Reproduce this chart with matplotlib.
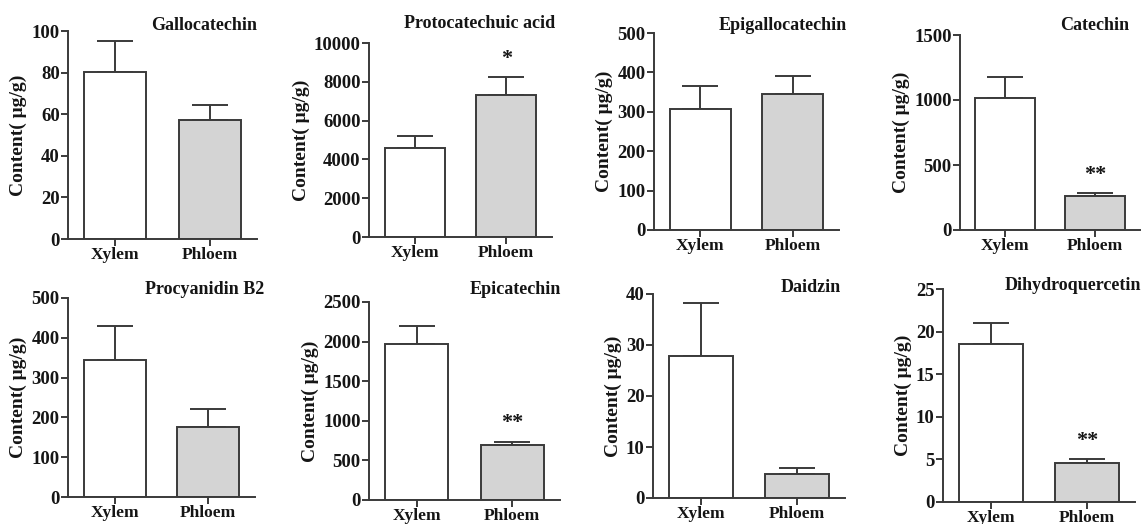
import numpy as np
from matplotlib import pyplot as plt

## data

groups    = ['Xylem', 'Phloem']
compounds = ['Gallocatechin', 'Protocatechuic acid', 'Epigallocatechin', 'Catechin',
             'Procyanidin B2', 'Epicatechin', 'Daidzin', 'Dihydroquercetin']
xylem     = [80.5, 4600, 308, 1015, 343, 1965, 27.8, 18.5]
xylem_err = [14.5, 600, 57, 160, 87, 235, 10.4, 2.5]
phloem    = [57.0, 7300, 345, 260, 175, 700, 4.8, 4.6]
phloem_err= [7.5, 950, 45, 25, 45, 35, 1.0, 0.4]
signif    = ['', '*', '', '**', '', '**', '', '**']
ymax      = [100, 10000, 500, 1500, 500, 2500, 40, 25]
ystep     = [20, 2000, 100, 500, 100, 500, 10, 5]

## panel boxes in pixels: left, right, top, bottom
W, H = 1145.0, 524.0
boxes = [(68, 257, 31, 239), (369, 552, 43, 237), (654, 839, 33, 230), (960, 1140, 35, 230),
         (68, 255, 298, 497), (369, 560, 302, 500), (653, 845, 294, 498), (943, 1135, 289, 502)]
# title centres in pixels
tpos  = [(204, 25), (480, 23), (783, 25), (1095, 25),
         (205, 289), (515, 289), (811, 287), (1073, 285)]

plt.rcParams['font.family'] = 'Liberation Serif'
plt.rcParams['font.weight'] = 'bold'
txt   = '#151515'
axcol = '#3a3a3a'

fig = plt.figure(figsize=(W/100, H/100), dpi=100)

for i in range(8):
    l, r, t, b = boxes[i]
    ax = fig.add_axes([l/W, 1 - b/H, (r - l)/W, (b - t)/H])
    x = np.arange(2)
    vals = [xylem[i], phloem[i]]
    errs = [xylem_err[i], phloem_err[i]]
    ax.bar(x, vals, width=0.66, color=['white', '#d4d4d4'], edgecolor=axcol, linewidth=1.4, zorder=2)
    ax.errorbar(x, vals, yerr=[[0, 0], errs], fmt='none', ecolor=axcol, elinewidth=1.4,
                capsize=13, capthick=1.4, zorder=1)
    if signif[i]:
        ax.annotate(signif[i], (1, phloem[i] + phloem_err[i]), xytext=(0, 6),
                    textcoords='offset points', ha='center', va='bottom',
                    fontsize=16, color=txt, fontweight='bold')
    ax.set_xlim(-0.5, 1.5)
    ax.set_ylim(0, ymax[i])
    ax.set_yticks(np.arange(0, ymax[i] + ystep[i]/2, ystep[i]))
    ax.set_xticks(x)
    ax.set_xticklabels(groups)
    for s in ['top', 'right']:
        ax.spines[s].set_visible(False)
    for s in ['left', 'bottom']:
        ax.spines[s].set_color(axcol)
        ax.spines[s].set_linewidth(1.4)
    ax.tick_params(axis='both', colors=axcol, length=5, width=1.4, labelcolor=txt)
    ax.tick_params(axis='y', labelsize=13.5, pad=1)
    ax.tick_params(axis='x', labelsize=12.5, pad=1)
    for lab in ax.get_xticklabels() + ax.get_yticklabels():
        lab.set_fontweight('bold')
    ax.set_ylabel('Content( μg/g)', fontsize=14, fontweight='bold', color=txt, labelpad=3)
    fig.text(tpos[i][0]/W, 1 - tpos[i][1]/H, compounds[i], ha='center', va='center',
             fontsize=13, fontweight='bold', color=txt)

fig.savefig('out.png', dpi=100)
